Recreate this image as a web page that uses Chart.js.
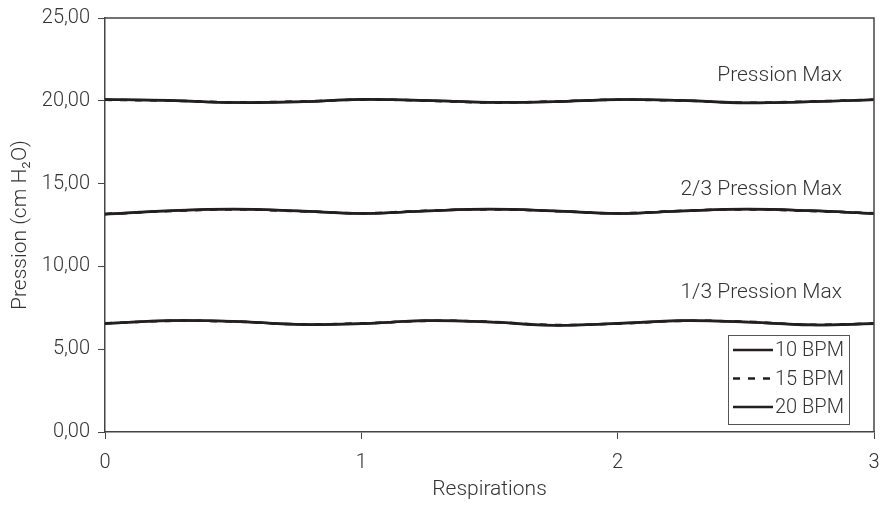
<!DOCTYPE html>
<html>
<head>
<meta charset="utf-8">
<script src="https://cdn.jsdelivr.net/npm/chart.js@4/dist/chart.umd.min.js"></script>
<style>
  html, body { margin: 0; padding: 0; background: #fff; }
  #wrap { width: 886px; height: 514px; }
</style>
</head>
<body>
<div id="wrap"><canvas id="myCanvas" width="886" height="514"></canvas></div>
<script>
// respirations (x) and pressure values
const respirations = [0, 0.25, 0.5, 0.75, 1, 1.25, 1.5, 1.75, 2, 2.25, 2.5, 2.75, 3]
const bpmLabels = ['10 BPM', '15 BPM', '20 BPM']
const yTicks = [0, 5, 10, 15, 20, 25]
const xTicks = [0, 1, 2, 3]

// Pression Max
const max10 = [20.08, 20.02, 19.90, 19.94, 20.08, 20.03, 19.90, 19.95, 20.08, 20.03, 19.88, 19.94, 20.06]
const max15 = [20.06, 20.01, 19.91, 19.96, 20.07, 20.01, 19.89, 19.96, 20.06, 20.01, 19.89, 19.96, 20.07]
const max20 = [20.07, 20.03, 19.89, 19.93, 20.09, 20.02, 19.91, 19.94, 20.07, 20.02, 19.87, 19.95, 20.06]

// 2/3 Pression Max
const twoThirds10 = [13.15, 13.35, 13.45, 13.36, 13.20, 13.34, 13.45, 13.36, 13.20, 13.35, 13.45, 13.36, 13.20]
const twoThirds15 = [13.17, 13.34, 13.44, 13.34, 13.21, 13.36, 13.44, 13.34, 13.21, 13.36, 13.44, 13.35, 13.21]
const twoThirds20 = [13.16, 13.36, 13.46, 13.35, 13.19, 13.35, 13.46, 13.35, 13.19, 13.34, 13.46, 13.37, 13.19]

// 1/3 Pression Max
const oneThird10 = [6.55, 6.72, 6.68, 6.50, 6.55, 6.72, 6.65, 6.45, 6.55, 6.72, 6.65, 6.47, 6.55]
const oneThird15 = [6.56, 6.71, 6.67, 6.51, 6.56, 6.71, 6.66, 6.46, 6.54, 6.71, 6.66, 6.48, 6.56]
const oneThird20 = [6.54, 6.73, 6.69, 6.49, 6.54, 6.73, 6.64, 6.44, 6.56, 6.73, 6.64, 6.46, 6.54]

const groupLabels = ['Pression Max', '2/3 Pression Max', '1/3 Pression Max']
const groupLabelY = [21.5, 14.6, 8.4]
const groupLabelX = 2.875

const inkColor = '#231f20'
const textColor = '#333333'
const fontFamily = 'Roboto, "Liberation Sans", sans-serif'

const groups = [
    [max10, max15, max20],
    [twoThirds10, twoThirds15, twoThirds20],
    [oneThird10, oneThird15, oneThird20]
]
const dashes = [[], [7, 8], []]

const datasets = []
groups.forEach(group => {
    group.forEach((values, i) => {
        datasets.push({
            label: bpmLabels[i],
            data: values.map((v, k) => ({ x: respirations[k], y: v })),
            borderColor: inkColor,
            borderWidth: 2.5,
            borderDash: dashes[i],
            pointRadius: 0,
            tension: 0.4,
            fill: false
        })
    })
})

// box around the plot area
const frame = {
    id: 'frame',
    afterDraw(chart) {
        const { ctx, chartArea } = chart
        ctx.save()
        ctx.strokeStyle = '#444'
        ctx.lineWidth = 1.5
        ctx.beginPath()
        ctx.moveTo(chartArea.left, chartArea.top)
        ctx.lineTo(chartArea.right, chartArea.top)
        ctx.lineTo(chartArea.right, chartArea.bottom)
        ctx.stroke()
        ctx.restore()
    }
}

// the three level labels
const levelLabels = {
    id: 'levelLabels',
    afterDatasetsDraw(chart) {
        const { ctx, scales } = chart
        ctx.save()
        ctx.font = '300 21px ' + fontFamily
        ctx.fillStyle = textColor
        ctx.textAlign = 'right'
        ctx.textBaseline = 'middle'
        groupLabels.forEach((txt, i) => {
            ctx.fillText(txt, scales.x.getPixelForValue(groupLabelX), scales.y.getPixelForValue(groupLabelY[i]))
        })
        ctx.restore()
    }
}

// boxed legend, bottom right inside the plot
const boxLegend = {
    id: 'boxLegend',
    afterDraw(chart) {
        const { ctx, chartArea } = chart
        const w = 121, h = 89
        const x0 = chartArea.right - 25 - w
        const y0 = chartArea.bottom - 8 - h
        ctx.save()
        ctx.fillStyle = '#fff'
        ctx.fillRect(x0, y0, w, h)
        ctx.strokeStyle = '#555'
        ctx.lineWidth = 1
        ctx.strokeRect(x0 + 0.5, y0 + 0.5, w, h)
        ctx.font = '300 20px ' + fontFamily
        ctx.textBaseline = 'middle'
        ctx.textAlign = 'left'
        bpmLabels.forEach((lbl, i) => {
            const y = y0 + 15 + i * 28.5
            ctx.strokeStyle = inkColor
            ctx.lineWidth = 2.5
            ctx.setLineDash(dashes[i])
            ctx.beginPath()
            ctx.moveTo(x0 + 5, y)
            ctx.lineTo(x0 + 45, y)
            ctx.stroke()
            ctx.setLineDash([])
            ctx.fillStyle = textColor
            ctx.fillText(lbl, x0 + 47, y + 1)
        })
        ctx.restore()
    }
}

const myChart = document.getElementById('myCanvas').getContext('2d')

Chart.defaults.font.family = fontFamily
Chart.defaults.font.size = 20
Chart.defaults.font.weight = 300
Chart.defaults.color = textColor

new Chart(myChart, {
    type: 'line',
    data: { datasets: datasets },
    options: {
        responsive: false,
        animation: false,
        layout: { padding: { top: 18, right: 12, left: 4, bottom: 0 } },
        plugins: {
            legend: { display: false },
            tooltip: { enabled: false }
        },
        scales: {
            x: {
                type: 'linear',
                min: 0,
                max: 3,
                afterBuildTicks: axis => { axis.ticks = xTicks.map(v => ({ value: v })) },
                afterFit: axis => {
                    axis.height = 82
                    axis.paddingLeft = 0
                    axis.paddingRight = 0
                },
                grid: { drawOnChartArea: false, drawTicks: true, tickLength: 7, color: '#444' },
                border: { display: true, color: '#444', width: 1.5 },
                ticks: { padding: 12, font: { size: 20 } },
                title: { display: true, text: 'Respirations', font: { size: 21 }, padding: { top: 4, bottom: 12 } }
            },
            y: {
                min: 0,
                max: 25,
                afterBuildTicks: axis => { axis.ticks = yTicks.map(v => ({ value: v })) },
                afterFit: axis => {
                    axis.width = 101
                    axis.paddingTop = 0
                    axis.paddingBottom = 0
                },
                grid: { drawOnChartArea: false, drawTicks: true, tickLength: 7, color: '#444' },
                border: { display: true, color: '#444', width: 1.5 },
                ticks: {
                    padding: 8,
                    font: { size: 20 },
                    callback: v => v.toFixed(2).replace('.', ',')
                },
                title: { display: true, text: 'Pression (cm H₂O)', font: { size: 21 }, padding: { bottom: 4 } }
            }
        }
    },
    plugins: [frame, levelLabels, boxLegend]
})
</script>
</body>
</html>
